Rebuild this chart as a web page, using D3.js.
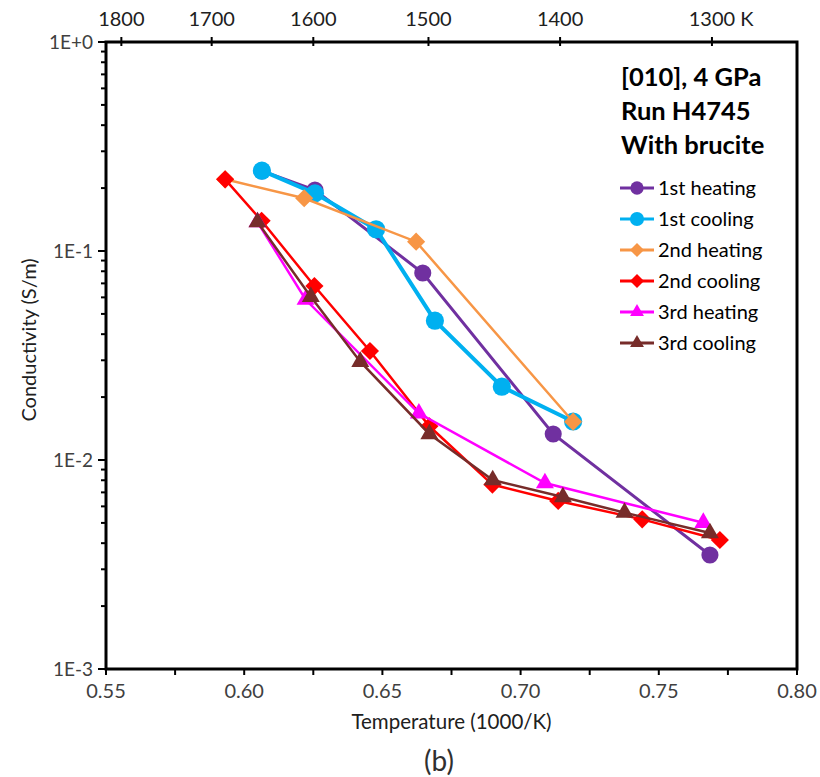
<!DOCTYPE html>
<html>
<head>
<meta charset="utf-8">
<title>Conductivity</title>
<style>
body { margin: 0; background: #fff; }
text { font-family: Lato, "Open Sans", sans-serif; }
</style>
</head>
<body>
<script src="https://cdn.jsdelivr.net/npm/d3@7"></script>
<script>
// values: x = 1000/T, y = conductivity (S/m)
var heat1X = [0.6064, 0.6256, 0.6646, 0.7118, 0.7685];
var heat1Y = [0.2414, 0.1958, 0.0785, 0.01332, 0.00351];
var cool1X = [0.6064, 0.6256, 0.6477, 0.6690, 0.6932, 0.7190];
var cool1Y = [0.2422, 0.1888, 0.1270, 0.0464, 0.02242, 0.01528];
var heat2X = [0.5931, 0.6217, 0.6622, 0.7190];
var heat2Y = [0.2203, 0.1788, 0.1108, 0.01525];
var cool2X = [0.5931, 0.6063, 0.6254, 0.6455, 0.6670, 0.6898, 0.7136, 0.7440, 0.7721];
var cool2Y = [0.2203, 0.1396, 0.0680, 0.03323, 0.01450, 0.00763, 0.00637, 0.00520, 0.00414];
var heat3X = [0.6048, 0.6222, 0.6632, 0.7088, 0.7661];
var heat3Y = [0.1376, 0.0586, 0.01673, 0.00776, 0.00501];
var cool3X = [0.6048, 0.6241, 0.6420, 0.6670, 0.6899, 0.7153, 0.7376, 0.7685];
var cool3Y = [0.1376, 0.0604, 0.02954, 0.01332, 0.00802, 0.00665, 0.00560, 0.00447];

var seriesNames = ['1st heating', '1st cooling', '2nd heating', '2nd cooling', '3rd heating', '3rd cooling'];
var xTicks = [0.55, 0.60, 0.65, 0.70, 0.75, 0.80];
var yTicks = [1, 0.1, 0.01, 0.001];
var yTickLabels = ['1E+0', '1E-1', '1E-2', '1E-3'];
var topTemps = [1800, 1700, 1600, 1500, 1400, 1300];
var topLabels = ['1800', '1700', '1600', '1500', '1400', '1300 K'];

var W = 820, H = 777;
var mL = 106, mR = 797, mT = 42, mB = 669;

var series = [
  {name: seriesNames[0], xs: heat1X, ys: heat1Y, color: '#7030A0', sym: d3.symbolCircle, size: 230, lw: 3},
  {name: seriesNames[1], xs: cool1X, ys: cool1Y, color: '#00B0F0', sym: d3.symbolCircle, size: 260, lw: 4},
  {name: seriesNames[2], xs: heat2X, ys: heat2Y, color: '#F79646', sym: d3.symbolDiamond2, size: 210, lw: 2.5},
  {name: seriesNames[3], xs: cool2X, ys: cool2Y, color: '#FF0000', sym: d3.symbolDiamond2, size: 210, lw: 2.5},
  {name: seriesNames[4], xs: heat3X, ys: heat3Y, color: '#FF00FF', sym: d3.symbolTriangle, size: 140, lw: 2.5},
  {name: seriesNames[5], xs: cool3X, ys: cool3Y, color: '#772C2A', sym: d3.symbolTriangle, size: 140, lw: 2.5}
];

var x = d3.scaleLinear().domain([0.55, 0.80]).range([mL, mR]);
var y = d3.scaleLog().domain([0.001, 1]).range([mB, mT]);

var svg = d3.select('body').append('svg')
  .attr('width', W)
  .attr('height', H);

// bottom axis, minor ticks every 0.025
var minorX = d3.range(0, 11).map(function(i){ return 0.55 + i * 0.025; });
svg.append('g').selectAll('line').data(minorX).enter().append('line')
  .attr('x1', function(d){ return x(d); })
  .attr('x2', function(d){ return x(d); })
  .attr('y1', mB)
  .attr('y2', mB + 6)
  .attr('stroke', '#000').attr('stroke-width', 2);
svg.append('g').selectAll('text').data(xTicks).enter().append('text')
  .attr('x', function(d){ return x(d); })
  .attr('y', mB + 29)
  .attr('text-anchor', 'middle')
  .attr('font-size', 20)
  .attr('fill', '#404040')
  .text(function(d){ return d.toFixed(2); });

// left axis, log ticks
var minorY = [];
[0.001, 0.01, 0.1].forEach(function(p){
  for (var k = 2; k <= 9; k++) minorY.push(p * k);
});
svg.append('g').selectAll('line').data(minorY).enter().append('line')
  .attr('x1', mL - 5).attr('x2', mL)
  .attr('y1', function(d){ return y(d); })
  .attr('y2', function(d){ return y(d); })
  .attr('stroke', '#000').attr('stroke-width', 2);
svg.append('g').selectAll('line').data(yTicks).enter().append('line')
  .attr('x1', mL - 8).attr('x2', mL)
  .attr('y1', function(d){ return y(d); })
  .attr('y2', function(d){ return y(d); })
  .attr('stroke', '#000').attr('stroke-width', 2);
svg.append('g').selectAll('text').data(yTicks).enter().append('text')
  .attr('x', mL - 13)
  .attr('y', function(d){ return y(d) + 7; })
  .attr('text-anchor', 'end')
  .attr('font-size', 19)
  .attr('fill', '#404040')
  .text(function(d, i){ return yTickLabels[i]; });

// top axis in kelvin
svg.append('g').selectAll('line').data(topTemps).enter().append('line')
  .attr('x1', function(d){ return x(1000 / d); })
  .attr('x2', function(d){ return x(1000 / d); })
  .attr('y1', mT - 5).attr('y2', mT + 4)
  .attr('stroke', '#000').attr('stroke-width', 2);
var topText = svg.append('g').selectAll('text').data(topTemps).enter().append('text')
  .attr('y', mT - 16)
  .attr('font-size', 20)
  .attr('fill', '#202020')
  .text(function(d){ return String(d); });
// keep the number centred on its tick, the unit hangs to the right
topText.each(function(d, i){
  var w = this.getComputedTextLength();
  d3.select(this).attr('x', x(1000 / d) - w / 2).text(topLabels[i]);
});

// frame
svg.append('rect')
  .attr('x', mL).attr('y', mT)
  .attr('width', mR - mL).attr('height', mB - mT)
  .attr('fill', 'none').attr('stroke', '#000').attr('stroke-width', 3);

// data
var line = d3.line()
  .x(function(d){ return x(d[0]); })
  .y(function(d){ return y(d[1]); });

series.forEach(function(s){
  var pts = s.xs.map(function(v, i){ return [v, s.ys[i]]; });
  var g = svg.append('g');
  g.append('path')
    .attr('d', line(pts))
    .attr('fill', 'none')
    .attr('stroke', s.color)
    .attr('stroke-width', s.lw);
  g.selectAll('path.m').data(pts).enter().append('path')
    .attr('class', 'm')
    .attr('transform', function(d){ return 'translate(' + x(d[0]) + ',' + y(d[1]) + ')'; })
    .attr('d', d3.symbol().type(s.sym).size(s.size))
    .attr('fill', s.color);
});

// annotation
var title = ['[010], 4 GPa', 'Run H4745', 'With brucite'];
svg.append('g').selectAll('text').data(title).enter().append('text')
  .attr('x', 621)
  .attr('y', function(d, i){ return 86 + i * 34; })
  .attr('font-size', 25.5)
  .attr('font-weight', 'bold')
  .attr('fill', '#000')
  .text(function(d){ return d; });

// legend
var leg = svg.append('g').selectAll('g').data(series).enter().append('g')
  .attr('transform', function(d, i){ return 'translate(620,' + (188 + i * 31) + ')'; });
leg.append('line')
  .attr('x1', 0).attr('x2', 34)
  .attr('stroke', function(d){ return d.color; })
  .attr('stroke-width', 3);
leg.append('path')
  .attr('transform', 'translate(17,0)')
  .attr('d', function(d){ return d3.symbol().type(d.sym).size(d.size * 0.6)(); })
  .attr('fill', function(d){ return d.color; });
leg.append('text')
  .attr('x', 38)
  .attr('y', 7)
  .attr('font-size', 20)
  .attr('fill', '#000')
  .text(function(d){ return d.name; });

// axis titles
svg.append('text')
  .attr('x', (mL + mR) / 2)
  .attr('y', 729)
  .attr('text-anchor', 'middle')
  .attr('font-size', 20.5)
  .attr('fill', '#202020')
  .text('Temperature (1000/K)');
svg.append('text')
  .attr('transform', 'translate(36,340) rotate(-90)')
  .attr('text-anchor', 'middle')
  .attr('font-size', 20)
  .attr('fill', '#202020')
  .text('Conductivity (S/m)');
svg.append('text')
  .attr('x', 439)
  .attr('y', 771)
  .attr('text-anchor', 'middle')
  .attr('font-size', 28)
  .attr('fill', '#303030')
  .text('(b)');
</script>
</body>
</html>
